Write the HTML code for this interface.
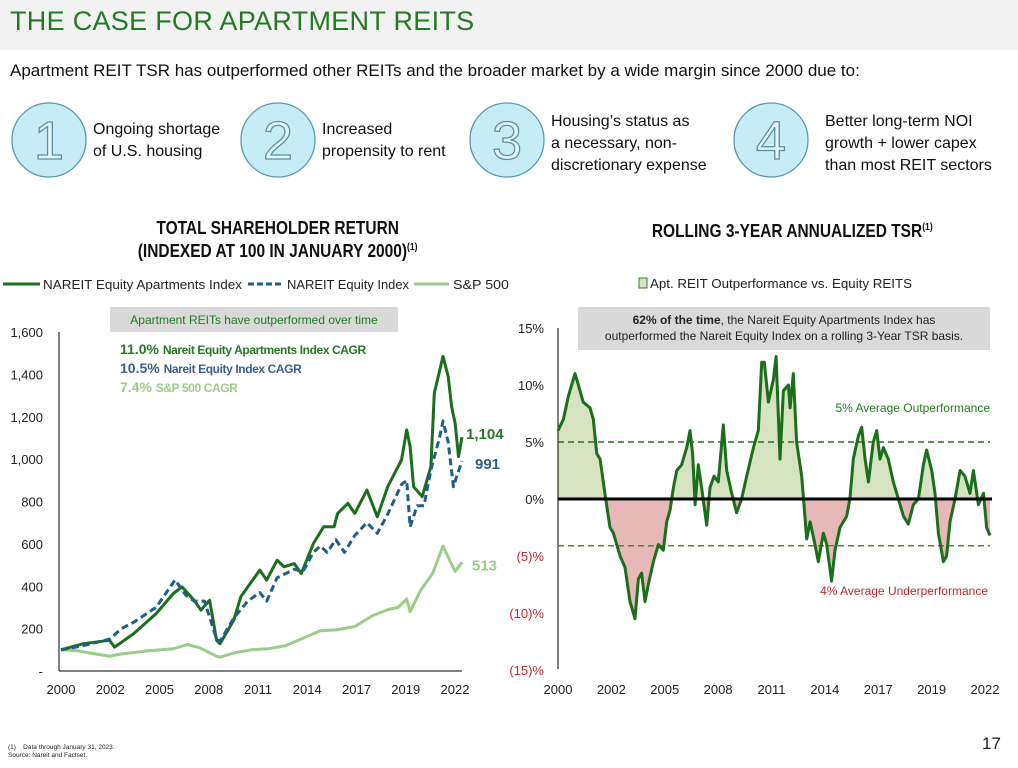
<!DOCTYPE html>
<html><head><meta charset="utf-8">
<style>
body{margin:0;width:1018px;height:768px;background:#fff;font-family:"Liberation Sans",sans-serif;position:relative;overflow:hidden}
.abs{position:absolute}
.cond{display:inline-block;transform:scaleX(0.86);transform-origin:center top;white-space:nowrap}
</style></head>
<body>
<div class="abs" style="left:0;top:0;width:1018px;height:50px;background:#f2f2f2"></div>
<div class="abs" style="left:10px;top:6px;font-size:27px;color:#237a23;letter-spacing:0.3px">THE CASE FOR APARTMENT REITS</div>
<div class="abs" style="left:10px;top:61px;font-size:17px;color:#111">Apartment REIT TSR has outperformed other REITs and the broader market by a wide margin since 2000 due to:</div>

<svg class="abs" style="left:0;top:95px" width="1018" height="95">
 <g><circle cx="49" cy="45" r="37" fill="#c5ecf7" stroke="#5a98ae" stroke-width="1.3"/><text x="49" y="64" text-anchor="middle" font-size="54" fill="#e8f7fc" stroke="#5a8fa3" stroke-width="1.3" font-family="Liberation Sans">1</text></g>
 <g><circle cx="278" cy="45" r="37" fill="#c5ecf7" stroke="#5a98ae" stroke-width="1.3"/><text x="278" y="64" text-anchor="middle" font-size="54" fill="#e8f7fc" stroke="#5a8fa3" stroke-width="1.3" font-family="Liberation Sans">2</text></g>
 <g><circle cx="507" cy="45" r="37" fill="#c5ecf7" stroke="#5a98ae" stroke-width="1.3"/><text x="507" y="64" text-anchor="middle" font-size="54" fill="#e8f7fc" stroke="#5a8fa3" stroke-width="1.3" font-family="Liberation Sans">3</text></g>
 <g><circle cx="771" cy="45" r="37" fill="#c5ecf7" stroke="#5a98ae" stroke-width="1.3"/><text x="771" y="64" text-anchor="middle" font-size="54" fill="#e8f7fc" stroke="#5a8fa3" stroke-width="1.3" font-family="Liberation Sans">4</text></g>
</svg>
<div class="abs" style="left:93px;top:119px;font-size:16px;line-height:22px;color:#111">Ongoing shortage<br>of U.S. housing</div>
<div class="abs" style="left:322px;top:119px;font-size:16px;line-height:22px;color:#111">Increased<br>propensity to rent</div>
<div class="abs" style="left:551px;top:111px;font-size:16px;line-height:22px;color:#111">Housing’s status as<br>a necessary, non-<br>discretionary expense</div>
<div class="abs" style="left:825px;top:111px;font-size:16px;line-height:22px;color:#111">Better long-term NOI<br>growth + lower capex<br>than most REIT sectors</div>

<div class="abs" style="left:78px;top:218px;width:400px;text-align:center;font-size:18px;font-weight:bold;line-height:20px;color:#111"><span class="cond">TOTAL SHAREHOLDER RETURN<br>(INDEXED AT 100 IN JANUARY 2000)<sup style="font-size:10px">(1)</sup></span></div>
<div class="abs" style="left:592px;top:218px;width:400px;text-align:center;font-size:18px;font-weight:bold;line-height:20px;color:#111"><span class="cond">ROLLING 3-YEAR ANNUALIZED TSR<sup style="font-size:10px">(1)</sup></span></div>

<svg class="abs" style="left:0;top:0" width="1018" height="768" id="charts">
 <g font-family="Liberation Sans, sans-serif" font-size="13" fill="#222">
  <line x1="3" y1="284" x2="40" y2="284" stroke="#1b6e1b" stroke-width="3"/><text x="43" y="289" textLength="199" lengthAdjust="spacingAndGlyphs">NAREIT Equity Apartments Index</text>
  <line x1="248" y1="284" x2="282" y2="284" stroke="#1f5f85" stroke-width="3" stroke-dasharray="6,3"/><text x="287" y="289" textLength="122" lengthAdjust="spacingAndGlyphs">NAREIT Equity Index</text>
  <line x1="414" y1="284" x2="449" y2="284" stroke="#9ccc8a" stroke-width="3"/><text x="453" y="289" textLength="56" lengthAdjust="spacingAndGlyphs">S&amp;P 500</text>
 </g>
 <g font-family="Liberation Sans, sans-serif" font-size="13" fill="#222">
  <rect x="639" y="278" width="8" height="10" fill="#d5e3c0" stroke="#3d7a2b"/><text x="650" y="288" textLength="262" lengthAdjust="spacingAndGlyphs">Apt. REIT Outperformance vs. Equity REITS</text>
 </g>
 <rect x="110" y="307" width="288" height="25" fill="#d9d9d9"/>
 <text x="254" y="324" text-anchor="middle" font-size="12" fill="#237a23">Apartment REITs have outperformed over time</text>
 <g font-size="14" font-weight="bold" font-family="Liberation Sans, sans-serif">
  <text x="120" y="354" fill="#237a23">11.0% <tspan font-size="12" letter-spacing="-0.4">Nareit Equity Apartments Index CAGR</tspan></text>
  <text x="120" y="373" fill="#3e5f8a">10.5% <tspan font-size="12" letter-spacing="-0.4">Nareit Equity Index CAGR</tspan></text>
  <text x="120" y="392" fill="#9ccc8a">7.4% <tspan font-size="12" letter-spacing="-0.4">S&amp;P 500 CAGR</tspan></text>
 </g>
 <rect x="578" y="307" width="412" height="43" fill="#d9d9d9"/>
 <text x="784" y="324" text-anchor="middle" font-size="12" fill="#222"><tspan font-weight="bold">62% of the time</tspan>, the Nareit Equity Apartments Index has</text>
 <text x="784" y="340" text-anchor="middle" font-size="12" fill="#222">outperformed the Nareit Equity Index on a rolling 3-Year TSR basis.</text>
 <g id="left"></g>
 <g id="right"></g>
</svg>

<div class="abs" style="left:982px;top:734px;font-size:17px;color:#222">17</div>
<div class="abs" style="left:8px;top:744px;font-size:6.5px;line-height:8px;color:#222">(1)&nbsp;&nbsp;&nbsp; Data through January 31, 2023.<br>Source: Nareit and Factset.</div>

<script>
// ---------- Left chart data ----------
const tsrAptYears=[2000,2001.3,2002.8,2003.1,2004.2,2005.5,2006.5,2007.0,2007.7,2008.1,2008.6,2009.0,2009.2,2010.0,2010.4,2011.5,2011.9,2012.5,2012.9,2013.5,2013.9,2014.6,2015.2,2015.8,2016.0,2016.6,2017.0,2017.7,2018.3,2018.9,2019.7,2020.0,2020.2,2020.4,2020.9,2021.4,2021.6,2022.1,2022.4,2022.6,2022.8,2023.0,2023.2];
const tsrAptValues=[100,129,145,113,176,271,366,397,334,287,334,145,129,240,350,476,429,523,492,507,460,602,681,681,744,791,744,854,728,870,996,1138,1059,870,823,965,1311,1485,1390,1248,1170,1012,1104];
const tsrEqYears=[2000,2001.3,2002.8,2003.5,2004.2,2005.5,2006.6,2007.2,2007.7,2008.3,2009.0,2009.2,2010.0,2010.8,2011.5,2011.9,2012.5,2013.5,2014.0,2014.6,2015.0,2015.4,2015.9,2016.4,2017.0,2017.7,2018.3,2018.9,2019.7,2020.0,2020.2,2020.6,2021.0,2021.4,2021.9,2022.1,2022.4,2022.7,2022.9,2023.2];
const tsrEqValues=[100,120,150,200,230,300,430,360,330,330,150,140,250,330,370,330,440,480,470,560,590,560,620,560,640,700,650,740,880,900,680,780,780,950,1100,1180,1080,870,920,991];
const tsrSpYears=[2000,2001,2002,2002.8,2003.5,2005,2006.5,2007.3,2008,2009.0,2009.2,2010,2011,2012,2013,2014,2015,2016,2017,2018,2018.9,2019.5,2020.0,2020.2,2020.8,2021.5,2022.1,2022.5,2022.8,2023.2];
const tsrSpValues=[100,95,80,70,80,95,105,125,110,70,65,85,100,105,120,155,190,195,210,260,290,300,340,280,380,460,590,520,470,513];
const leftTicks=[0,200,400,600,800,1000,1200,1400,1600];
const leftTickLabels=['-','200','400','600','800','1,000','1,200','1,400','1,600'];
const xLabels=['2000','2002','2005','2008','2011','2014','2017','2019','2022'];
const endLabels=['1,104','991','513'];
const endValues=[1104,991,513];

// ---------- Right chart data ----------
const rollYears=[2000.0,2000.29,2000.55,2000.91,2001.09,2001.35,2001.71,2001.89,2002.07,2002.25,2002.51,2002.78,2002.96,2003.32,2003.58,2003.85,2004.12,2004.30,2004.47,2004.65,2004.83,2005.10,2005.37,2005.63,2005.81,2005.99,2006.17,2006.35,2006.61,2006.88,2007.06,2007.20,2007.33,2007.50,2007.68,2007.95,2008.13,2008.34,2008.57,2008.84,2009.02,2009.29,2009.55,2009.82,2010.09,2010.45,2010.71,2010.89,2011.03,2011.25,2011.52,2011.66,2011.87,2012.05,2012.32,2012.41,2012.58,2012.76,2013.03,2013.30,2013.48,2013.74,2013.92,2014.19,2014.37,2014.63,2014.81,2015.08,2015.44,2015.61,2015.79,2016.06,2016.24,2016.42,2016.60,2016.86,2017.04,2017.22,2017.40,2017.66,2017.93,2018.20,2018.47,2018.73,2019.00,2019.27,2019.54,2019.71,2019.98,2020.16,2020.34,2020.61,2020.78,2020.96,2021.23,2021.50,2021.76,2022.03,2022.21,2022.48,2022.75,2022.92,2023.10];
const rollValues=[6,7,9,11,10,8.5,8,7,4,3.5,0.5,-2.5,-3,-5,-6,-9,-10.5,-7,-6.5,-9,-7.5,-5.5,-4,-4.5,-2,-1,1,2.5,3,4.5,6,4,-0.5,3,1,-2.3,1,2,1.5,6.5,2.5,0.5,-1.2,0,2,4.5,6,12,12,8.5,10.5,12.5,3.5,9.5,10,8,11,5,2,-3.5,-2,-4,-5.5,-3,-4,-7.2,-4.5,-2.5,-1.5,0,3.5,5.5,6.3,3.5,1.5,5,6,3.5,4.5,3.5,1.5,0,-1.5,-2.2,-0.5,0,3,4.3,2.5,0.5,-3,-5.5,-5,-2,0,2.5,2,0.5,2.5,-0.5,0.5,-2.5,-3.2];
const rightTicks=[15,10,5,0,-5,-10,-15];
const rightTickLabels=['15%','10%','5%','0%','(5)%','(10)%','(15)%'];
const avgOut=5, avgUnder=-4.1;

const NS='http://www.w3.org/2000/svg';
function el(tag,attrs,parent,txt){const e=document.createElementNS(NS,tag);for(const k in attrs)e.setAttribute(k,attrs[k]);if(txt!=null)e.textContent=txt;parent.appendChild(e);return e;}
const FONT='Liberation Sans, sans-serif';

// Left axes
const L=document.getElementById('left');
const lx=y=>61+(y-2000)/(23.2)*(462-61);
const ly=v=>671-v/1600*(671-332);
el('line',{x1:59,y1:332,x2:59,y2:671,stroke:'#000','stroke-width':1},L);
el('line',{x1:59,y1:671,x2:462,y2:671,stroke:'#000','stroke-width':1},L);
leftTicks.forEach((t,i)=>{const e=el('text',{x:43,y:ly(t)+5,'text-anchor':'end','font-size':13,'font-family':FONT,fill:'#222'},L,leftTickLabels[i]);
});
xLabels.forEach((t,i)=>{const e=el('text',{x:61+i*(455-61)/8,y:694,'text-anchor':'middle','font-size':13,'font-family':FONT,fill:'#222'},L,t);
});
function path(xs,vs,fx,fy){return xs.map((x,i)=>(i?'L':'M')+fx(x).toFixed(1)+','+fy(vs[i]).toFixed(1)).join(' ');}
let p=el('path',{d:path(tsrSpYears,tsrSpValues,lx,ly),fill:'none',stroke:'#9ccc8a','stroke-width':3,'stroke-linejoin':'round'},L);

p=el('path',{d:path(tsrAptYears,tsrAptValues,lx,ly),fill:'none',stroke:'#1b6e1b','stroke-width':3,'stroke-linejoin':'round'},L);

p=el('path',{d:path(tsrEqYears,tsrEqValues,lx,ly),fill:'none',stroke:'#1f5f85','stroke-width':3,'stroke-dasharray':'7,4','stroke-linejoin':'round'},L);

const endColors=['#237a23','#2e5f7f','#9ccc8a'];
const endX=[466,475,472];
endLabels.forEach((t,i)=>{const e=el('text',{x:endX[i],y:ly(endValues[i])+(i==0?2:8),'font-size':15,'font-weight':'bold','font-family':FONT,fill:endColors[i]},L,t);
});

// Right chart
const R=document.getElementById('right');
const rx=y=>558+(y-2000)/23.1*(990-558);
const ry=v=>499-v*(499-328)/15;
const defs=el('defs',{},R);
const cp1=el('clipPath',{id:'above'},defs);el('rect',{x:550,y:300,width:450,height:ry(0)-300},cp1);
const cp2=el('clipPath',{id:'below'},defs);el('rect',{x:550,y:ry(0),width:450,height:200},cp2);
const area='M'+rx(rollYears[0])+','+ry(0)+' '+path(rollYears,rollValues,rx,ry).replace('M','L')+' L'+rx(rollYears[rollYears.length-1])+','+ry(0)+' Z';
p=el('path',{d:area,fill:'#d5e3c0','clip-path':'url(#above)'},R);
p=el('path',{d:area,fill:'#e6b8b7','clip-path':'url(#below)'},R);
el('line',{x1:558,y1:328,x2:558,y2:669,stroke:'#000','stroke-width':1},R);
rightTicks.forEach((t,i)=>{const e=el('text',{x:544,y:ry(t)+5,'text-anchor':'end','font-size':13,'font-family':FONT,fill:t<0?'#c0282d':'#222'},R,rightTickLabels[i]);
});
xLabels.forEach((t,i)=>{const e=el('text',{x:558+i*(985-558)/8,y:694,'text-anchor':'middle','font-size':13,'font-family':FONT,fill:'#222'},R,t);
});
let l=el('line',{x1:558,y1:ry(avgOut),x2:990,y2:ry(avgOut),stroke:'#2d6a1f','stroke-width':1.6,'stroke-dasharray':'6,4'},R);
l=el('line',{x1:558,y1:ry(avgUnder),x2:990,y2:ry(avgUnder),stroke:'#6b7a3a','stroke-width':1.6,'stroke-dasharray':'6,4'},R);
p=el('path',{d:path(rollYears,rollValues,rx,ry),fill:'none',stroke:'#1b6e1b','stroke-width':3,'stroke-linejoin':'round'},R);

l=el('line',{x1:558,y1:ry(0),x2:992,y2:ry(0),stroke:'#000','stroke-width':3},R);
let t=el('text',{x:990,y:412,'text-anchor':'end','font-size':12,'font-family':FONT,fill:'#237a23'},R,'5% Average Outperformance');

t=el('text',{x:988,y:595,'text-anchor':'end','font-size':12,'font-family':FONT,fill:'#c0282d'},R,'4% Average Underperformance');

</script>
</body></html>
